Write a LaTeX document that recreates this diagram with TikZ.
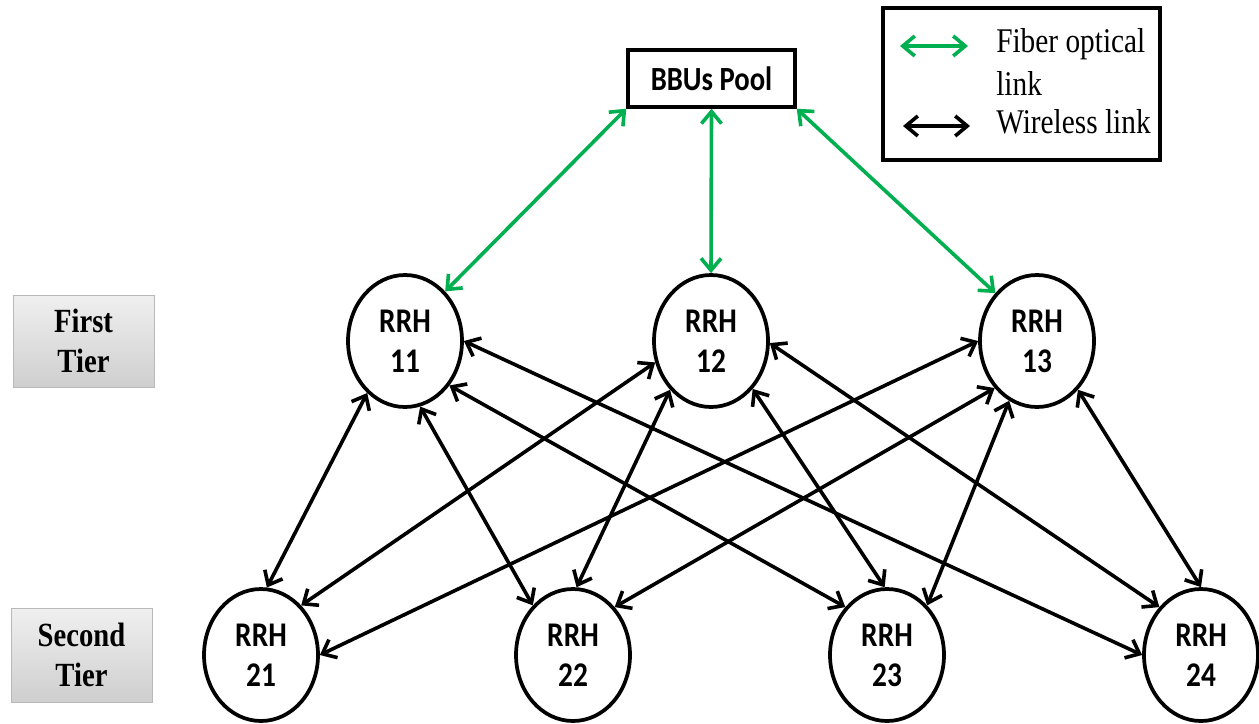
\documentclass[tikz,border=0pt]{standalone}
\usepackage{fontspec}
\usepackage{graphicx}
\setmainfont{Liberation Serif}
\newfontfamily\rrhfont{Carlito}
\usetikzlibrary{shapes.geometric,arrows.meta}
\definecolor{fibergreen}{RGB}{0,176,80}
% slightly taller glyphs
\newcommand\vst[1]{\scalebox{1}[1.18]{#1}}

\begin{document}
\begin{tikzpicture}[x=0.75pt,y=-0.75pt,
  rrh/.style={ellipse,draw,line width=2.8pt,fill=white,minimum width=85.5pt,
    minimum height=99pt,inner sep=0pt,align=center,
    font=\rrhfont\bfseries\fontsize{22}{30}\selectfont},
  tip/.tip={Straight Barb[length=9pt,width=15pt]},
  link/.style={line width=2.7pt,line cap=round,line join=round,tip-tip},
  fiber/.style={link,draw=fibergreen},
  wireless/.style={link,draw=black},
  tier/.style={draw=gray!55,line width=0.6pt,top color=gray!12,bottom color=gray!38,
    minimum width=105.75pt,inner sep=0pt,align=center,
    font=\bfseries\fontsize{21.5}{30}\selectfont},
  legtext/.style={anchor=base west,inner sep=0pt,font=\fontsize{22}{30}\selectfont},
]
\useasboundingbox (0,0) rectangle (1259,724);

% central unit
\node[draw,line width=2.6pt,minimum width=125.25pt,minimum height=42.75pt,inner sep=0pt,
  font=\rrhfont\bfseries\fontsize{21.5}{30}\selectfont] (bbu) at (711.5,78.5) {\vst{BBUs Pool}};

% tier labels
\node[tier,minimum height=69pt] (tier1) at (83.5,341) {\vst{First}\\\vst{Tier}};
\node[tier,minimum height=70.5pt] (tier2) at (81.5,655) {\vst{Second}\\\vst{Tier}};

% first tier heads
\node[rrh] (n11) at (405,341) {\vst{RRH}\\\vst{11}};
\node[rrh] (n12) at (711,341) {\vst{RRH}\\\vst{12}};
\node[rrh] (n13) at (1037,341) {\vst{RRH}\\\vst{13}};

% second tier heads
\node[rrh] (n21) at (261,655) {\vst{RRH}\\\vst{21}};
\node[rrh] (n22) at (573,655) {\vst{RRH}\\\vst{22}};
\node[rrh] (n23) at (887,655) {\vst{RRH}\\\vst{23}};
\node[rrh] (n24) at (1201,655) {\vst{RRH}\\\vst{24}};

% fronthaul fibre
\draw[fiber] (bbu.south west) -- (n11.51);
\draw[fiber] (bbu.south) -- (n12.north);
\draw[fiber] (bbu.south east) -- (n13.131);

% wireless links between the tiers
\draw[wireless] (n11.234) -- (n21.85);
\draw[wireless] (n11.283) -- (n22.129);
\draw[wireless] (n11.315) -- (n23.131);
\draw[wireless] (n11.east) -- (n24.west);
\draw[wireless] (n12.201) -- (n21.51);
\draw[wireless] (n12.230) -- (n22.87);
\draw[wireless] (n12.311) -- (n23.92);
\draw[wireless] (n12.-2) -- (n24.131);
\draw[wireless] (n13.west) -- (n21.east);
\draw[wireless] (n13.228) -- (n22.49);
\draw[wireless] (n13.245) -- (n23.51);
\draw[wireless] (n13.310) -- (n24.90);

% legend
\node[draw,line width=3.2pt,minimum width=207.75pt,minimum height=114pt,inner sep=0pt] (legend) at (1021.5,84) {};
\coordinate (fa) at (900,46);
\coordinate (fb) at (968,46);
\coordinate (wa) at (903,126);
\coordinate (wb) at (970,126);
\draw[fiber] (fa) -- (fb);
\draw[wireless] (wa) -- (wb);
\node[legtext] (l1) at (996,53) {\vst{Fiber optical}};
\node[legtext] (l2) at (996,95) {\vst{link}};
\node[legtext] (l3) at (996,133) {\vst{Wireless link}};
\end{tikzpicture}
\end{document}
